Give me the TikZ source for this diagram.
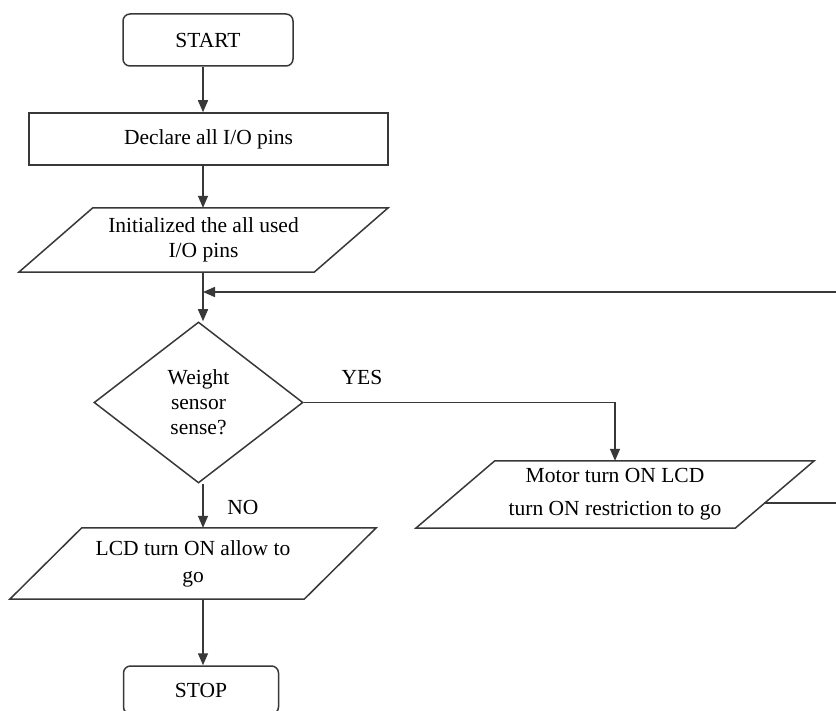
\documentclass[tikz,border=0pt]{standalone}
\usepackage{fontspec}
\setmainfont{Liberation Serif}
\usetikzlibrary{shapes.geometric,arrows.meta,calc}
\begin{document}
\begin{tikzpicture}[x=1pt,y=-1pt,
  font=\fontsize{21.5}{25}\selectfont,
  line/.style={draw=black!78, line width=1.5pt},
  arr/.style={line, -{Triangle[length=12pt,width=10pt]}},
  term/.style={line, rounded corners=7pt, inner sep=0pt, text=black},
  procbox/.style={line, inner sep=0pt, text=black},
  ioframe/.style={inner sep=0pt, align=center, text=black},
  decision/.style={line, diamond, inner sep=0pt, align=center, text=black},
  lbl/.style={inner sep=0pt, text=black}
]
\useasboundingbox (0,0) rectangle (836,711);
\coordinate (spine) at (203,0);

% START
\node[term, minimum width=170pt, minimum height=52pt] (start) at (208,40) {START};
% Declare
\node[procbox, minimum width=359pt, minimum height=52pt] (declare) at (208.5,139) {Declare all I/O pins};
% Initialized (parallelogram)
\node[ioframe, minimum width=369pt, minimum height=64pt] (init) at (203.5,240) {Initialized the all used\\I/O pins};
\draw[line] ($(init.north west)+(74,0)$) -- (init.north east) -- ($(init.south east)+(-74,0)$) -- (init.south west) -- cycle;
% Decision
\node[decision, minimum width=209pt, minimum height=161pt] (dia) at (198.5,402.5) {Weight\\sensor\\sense?};
% Motor (parallelogram)
\node[ioframe, minimum width=398pt, minimum height=67pt] (motor) at (615,494.5) {Motor turn ON LCD\\[8pt]turn ON restriction to go};
\draw[line] ($(motor.north west)+(79,0)$) -- (motor.north east) -- ($(motor.south east)+(-79,0)$) -- (motor.south west) -- cycle;
% LCD (parallelogram)
\node[ioframe, minimum width=366pt, minimum height=71pt] (lcd) at (193,563.5) {LCD turn ON allow to\\[2pt]go};
\draw[line] ($(lcd.north west)+(72,0)$) -- (lcd.north east) -- ($(lcd.south east)+(-72,0)$) -- (lcd.south west) -- cycle;
% STOP
\node[term, minimum width=155pt, minimum height=48pt] (stop) at (201,690) {STOP};

% labels
\node[lbl] (yes) at (362,377) {YES};
\node[lbl] (no) at (243,507) {NO};

% connectors
\coordinate (merge) at (203,292);
\coordinate (mout) at (764.5,503);
\draw[arr] (start.south -| spine) -- (declare.north -| spine);
\draw[arr] (declare.south -| spine) -- (init.north -| spine);
\draw[line] (init.south -| spine) -- (merge);
\draw[arr] (merge) -- (dia.north -| spine);
\draw[arr] (dia.east) -- (dia.east -| motor.north) -- (motor.north);
\draw[arr] (dia.south -| spine) -- (lcd.north -| spine);
\draw[arr] (lcd.south -| spine) -- (stop.north -| spine);
\draw[arr] (mout) -- (842,503) -- (842,292) -- (merge);
\end{tikzpicture}
\end{document}
